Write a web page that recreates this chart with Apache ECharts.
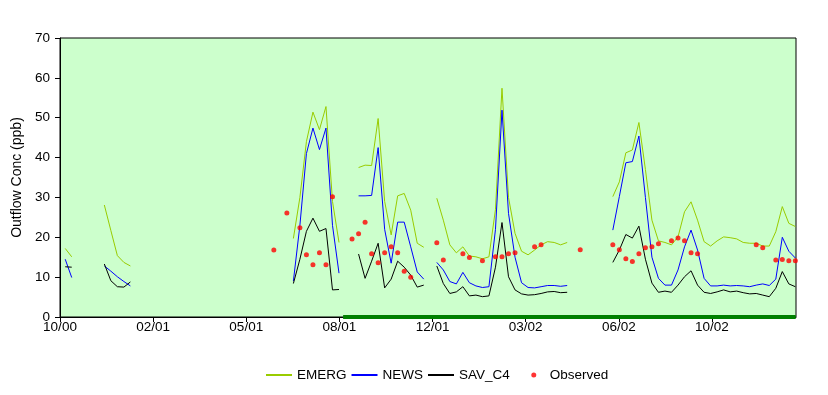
<!DOCTYPE html>
<html>
<head>
<meta charset="utf-8">
<script src="https://cdn.jsdelivr.net/npm/echarts@6/dist/echarts.min.js"></script>
<style>
html,body{margin:0;padding:0;background:#fff;}
#chart{width:828px;height:395px;}
</style>
</head>
<body>
<div id="chart"></div>
<script>
// x in days since 1 Oct 2000; weekly model output
const tickLabels = ['10/00','02/01','05/01','08/01','12/01','03/02','06/02','10/02'];
const firstWeekDay = 5.6;
const weekStep = 7;
const N = null;

const emerg = [17.2,15.1,N,N,N,N,28.1,21.7,15.4,13.7,12.8,N,N,N,N,N,N,N,N,N,
N,N,N,N,N,N,N,N,N,N,N,N,N,N,N,19.7,30,44,51.4,47,
52.8,29,18.7,N,N,37.5,38.1,38.0,49.8,29,20.6,30.4,31.0,26.8,18.5,17.5,N,29.8,24.3,18.1,
16.1,17.6,15.3,15.1,14.6,15.1,27,57.4,30,21,16.5,15.6,16.8,18.1,18.9,18.7,18.1,18.7,N,N,
N,N,N,N,30.2,33.9,41.2,41.9,48.8,37,24.3,19.1,18.7,18.1,20.1,26.4,28.9,24.3,18.9,17.8,
19.1,20.1,19.9,19.6,18.7,18.5,18.5,17.8,17.8,21.4,27.7,23.5,22.7];

const news = [14.5,9.9,N,N,N,N,12.8,11.5,10.1,8.9,7.8,N,N,N,N,N,N,N,N,N,
N,N,N,N,N,N,N,N,N,N,N,N,N,N,N,9,23,41,47.4,42,
47.4,23,11,N,N,30.4,30.4,30.5,42.5,22,13.5,23.8,23.8,17.6,11.3,9.5,N,13.7,11.8,8.9,
8.3,11.2,8.6,7.8,7.4,7.6,22,51.9,26,15,8.6,7.4,7.3,7.6,7.9,7.9,7.7,7.9,N,N,
N,N,N,N,21.8,30.2,38.7,39,45.4,30,15,9.7,8.0,8.0,11.8,17.6,21.8,16.8,9.7,7.8,
7.8,8.0,7.8,7.9,7.8,7.6,8.0,8.3,7.9,9.5,20,16.5,14.8];

const savC4 = [12.6,12.5,N,N,N,N,13.3,9.1,7.6,7.5,8.8,N,N,N,N,N,N,N,N,N,
N,N,N,N,N,N,N,N,N,N,N,N,N,N,N,8.4,14.5,21.5,24.8,21.5,
22.2,6.8,6.9,N,N,15.8,9.7,14,18.5,7.3,9.5,14,12.5,10.5,7.5,8,N,12.8,8.4,5.9,
6.3,7.6,5.3,5.5,5.1,5.3,12.5,23.7,10.1,6.8,5.8,5.5,5.6,5.9,6.3,6.4,6.1,6.2,N,N,
N,N,N,N,13.7,16.8,20.7,19.8,22.8,14.5,8.5,6.2,6.5,6.2,8.0,10.1,11.6,8.0,6.2,5.9,
6.3,6.8,6.3,6.5,6.1,5.8,5.9,5.5,5.1,7.2,11.4,8.3,7.6];

// observed: [week index, value]
const observed = [[32,16.8],[34,26.1],[36,22.4],[37,15.6],[38,13.1],[39,16.1],[40,13.1],[41,30.2],
[44,19.6],[45,20.9],[46,23.8],[47,15.9],[48,13.6],[49,16.1],[50,17.6],[51,16.1],[52,11.5],[53,10.0],
[57,18.6],[58,14.3],[61,15.9],[62,14.9],[64,14.1],[66,15.1],[67,15.1],[68,15.9],[69,16.1],[72,17.6],[73,18.1],
[79,16.9],[84,18.1],[85,16.9],[86,14.6],[87,13.9],[88,15.9],[89,17.4],[90,17.6],[91,18.4],[93,19.1],[94,19.8],
[95,19.1],[96,16.1],[97,15.9],[106,18.1],[107,17.4],[109,14.3],[110,14.4],[111,14.1],[112,14.1]];

// baseline period (days since 1 Oct 2000) shown as thick green line at zero
const basePeriod = [304, 790];
const baseValue = 0;

const axisMaxDay = 790.3;

const day = i => firstWeekDay + weekStep * i;
const toSeries = arr => arr.map((v, i) => [day(i), v == null ? '-' : v]);

const FONT = 'Liberation Sans, Arial, sans-serif';
const chart = echarts.init(document.getElementById('chart'), null, {renderer: 'canvas'});
const lineLegend = name => ({name: name, itemStyle: {opacity: 0}});
// legend dot inside a 26x5 icon box
const dotIcon = 'path://M0,2.5L0.01,2.5L0,2.51Z M26,2.5L25.99,2.5L26,2.49Z M22.5,2.5A2.5,2.5,0,1,1,17.5,2.5A2.5,2.5,0,1,1,22.5,2.5Z';
chart.setOption({
  animation: false,
  backgroundColor: '#fff',
  textStyle: {fontFamily: FONT},
  grid: {left: 60, right: 32, top: 38, bottom: 78, show: true, backgroundColor: '#CCFFCC', borderColor: '#000', borderWidth: 1},
  xAxis: {
    type: 'value', min: 0, max: axisMaxDay, interval: 100,
    axisLine: {lineStyle: {color: '#000', width: 1}},
    axisTick: {length: 5, lineStyle: {color: '#000'}},
    splitLine: {show: false},
    axisLabel: {color: '#000', fontSize: 13.5, fontFamily: FONT, margin: 3, showMaxLabel: false,
      formatter: v => { const k = Math.round(v / 100); return Math.abs(v - k * 100) < 1e-6 && tickLabels[k] ? tickLabels[k] : ''; }}
  },
  yAxis: {
    type: 'value', min: 0, max: 70, interval: 10,
    name: 'Outflow Conc (ppb)', nameLocation: 'middle', nameGap: 31,
    nameTextStyle: {color: '#000', fontSize: 14, fontFamily: FONT},
    axisLine: {show: true, lineStyle: {color: '#000', width: 1}},
    axisTick: {show: true, length: 5, lineStyle: {color: '#000'}},
    splitLine: {show: false},
    axisLabel: {color: '#000', fontSize: 13.5, fontFamily: FONT, margin: 10}
  },
  legend: {
    left: 260, top: 363, itemWidth: 26, itemHeight: 5, itemGap: 4,
    textStyle: {color: '#000', fontSize: 13.5, fontFamily: FONT},
    data: [lineLegend('EMERG'), lineLegend('NEWS'), lineLegend('SAV_C4'),
      {name: 'Observed', icon: dotIcon, textStyle: {padding: [0, 0, 0, 5]}}]
  },
  series: [
    {name: 'EMERG', type: 'line', data: toSeries(emerg), symbol: 'none', lineStyle: {color: '#99CC00', width: 1}, itemStyle: {color: '#99CC00'}, z: 3},
    {name: 'NEWS', type: 'line', data: toSeries(news), symbol: 'none', lineStyle: {color: '#0000FF', width: 1}, itemStyle: {color: '#0000FF'}, z: 4},
    {name: 'SAV_C4', type: 'line', data: toSeries(savC4), symbol: 'none', lineStyle: {color: '#000000', width: 1}, itemStyle: {color: '#000000'}, z: 5},
    {name: 'Observed', type: 'scatter', data: observed.map(([i, v]) => [day(i), v]), symbol: 'circle', symbolSize: 5, itemStyle: {color: '#FF0000'}, z: 6},
    {name: 'baseline', type: 'line', data: basePeriod.map(d => [d, baseValue]), symbol: 'none', lineStyle: {color: '#008000', width: 4}, z: 7, clip: false, legendHoverLink: false}
  ]
});
</script>
</body>
</html>
